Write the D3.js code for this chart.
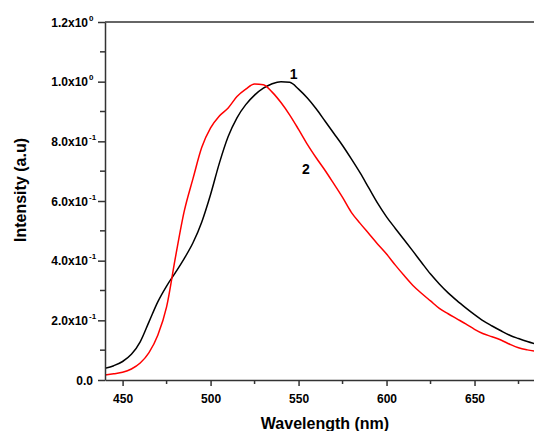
<!DOCTYPE html>
<html>
<head>
<meta charset="utf-8">
<script src="https://cdn.jsdelivr.net/npm/d3@7"></script>
<style>
  body { margin: 0; background: #fff; }
  svg { display: block; }
  .tick text { font-family: "Liberation Sans", Arial, sans-serif; font-weight: bold; font-size: 12px; fill: #000; }
  .axis-title { font-family: "Liberation Sans", Arial, sans-serif; font-weight: bold; font-size: 16px; fill: #000; }
  .curve-label { font-family: "Liberation Sans", Arial, sans-serif; font-weight: bold; font-size: 14px; fill: #000; }
</style>
</head>
<body>
<svg id="chart" width="534" height="431"></svg>
<script>
// ── Data ──
const wavelength = [440, 445, 450, 455, 460, 465, 470, 475, 480, 485, 490, 495, 500, 505, 510, 515,
  520, 525, 530, 535, 540, 545, 550, 555, 560, 565, 570, 575, 580, 585, 590, 595, 600, 605, 610,
  615, 620, 625, 630, 635, 640, 645, 650, 655, 660, 665, 670, 675, 680, 684];

const sample1 = [0.039, 0.048, 0.062, 0.086, 0.128, 0.195, 0.262, 0.315, 0.360, 0.407, 0.460, 0.530,
  0.622, 0.727, 0.816, 0.879, 0.923, 0.955, 0.978, 0.993, 1.000, 0.998, 0.975, 0.945, 0.909, 0.868,
  0.827, 0.786, 0.741, 0.694, 0.643, 0.592, 0.547, 0.508, 0.470, 0.432, 0.393, 0.355, 0.322, 0.292,
  0.266, 0.242, 0.219, 0.198, 0.181, 0.165, 0.150, 0.139, 0.129, 0.122];

const sample2 = [0.017, 0.021, 0.026, 0.037, 0.057, 0.092, 0.150, 0.245, 0.410, 0.565, 0.675, 0.780,
  0.845, 0.885, 0.912, 0.950, 0.975, 0.992, 0.990, 0.965, 0.930, 0.888, 0.840, 0.790, 0.745, 0.703,
  0.658, 0.612, 0.562, 0.525, 0.490, 0.455, 0.422, 0.385, 0.350, 0.317, 0.290, 0.265, 0.240, 0.222,
  0.205, 0.188, 0.170, 0.155, 0.145, 0.134, 0.120, 0.108, 0.101, 0.097];

const xTicks = [450, 500, 550, 600, 650];
const xMinor = [475, 525, 575, 625, 675];
const yTicks = [0, 0.2, 0.4, 0.6, 0.8, 1.0, 1.2];
const yMinor = [0.1, 0.3, 0.5, 0.7, 0.9, 1.1];
const yLabels = [["0.0", ""], ["2.0x10", "-1"], ["4.0x10", "-1"], ["6.0x10", "-1"],
  ["8.0x10", "-1"], ["1.0x10", "0"], ["1.2x10", "0"]];

// ── Layout ──
const LEFT = 105, RIGHT = 534, TOP = 22, BOTTOM = 380;
const AXIS = "#333";

const svg = d3.select("#chart");

const x = d3.scaleLinear().domain([440, 683.8]).range([LEFT, RIGHT]);
const y = d3.scaleLinear().domain([0, 1.2]).range([BOTTOM, TOP]);

// ── Curves ──
const line = d3.line()
  .curve(d3.curveMonotoneX)
  .x(d => x(d[0]))
  .y(d => y(d[1]));

svg.append("defs").append("clipPath").attr("id", "plot-clip")
  .append("rect").attr("x", LEFT).attr("y", TOP).attr("width", RIGHT - LEFT).attr("height", BOTTOM - TOP);

svg.append("path")
  .datum(wavelength.map((w, i) => [w, sample1[i]]))
  .attr("clip-path", "url(#plot-clip)")
  .attr("fill", "none")
  .attr("stroke", "#000")
  .attr("stroke-width", 1.5)
  .attr("d", line);

svg.append("path")
  .datum(wavelength.map((w, i) => [w, sample2[i]]))
  .attr("clip-path", "url(#plot-clip)")
  .attr("fill", "none")
  .attr("stroke", "#ff0000")
  .attr("stroke-width", 1.5)
  .attr("d", line);

// ── Top frame line ──
svg.append("line")
  .attr("x1", LEFT).attr("x2", RIGHT).attr("y1", TOP).attr("y2", TOP)
  .attr("stroke", AXIS).attr("stroke-width", 1.5);

// ── Bottom axis ──
const xAxis = svg.append("g")
  .attr("transform", `translate(0,${BOTTOM})`)
  .call(d3.axisBottom(x).tickValues(xTicks).tickSize(6).tickSizeOuter(0).tickPadding(8));
xAxis.select(".domain").attr("stroke", AXIS).attr("stroke-width", 1.5);
xAxis.selectAll(".tick line").attr("stroke", AXIS).attr("stroke-width", 1.5);

xMinor.forEach(v => {
  svg.append("line")
    .attr("x1", x(v)).attr("x2", x(v))
    .attr("y1", BOTTOM).attr("y2", BOTTOM + 4)
    .attr("stroke", AXIS).attr("stroke-width", 1.5);
});

// ── Left axis ──
const yAxis = svg.append("g")
  .attr("transform", `translate(${LEFT},0)`)
  .call(d3.axisLeft(y).tickValues(yTicks).tickSize(7).tickSizeOuter(0).tickFormat(""));
yAxis.select(".domain").attr("stroke", AXIS).attr("stroke-width", 1.5);
yAxis.selectAll(".tick line").attr("stroke", AXIS).attr("stroke-width", 1.5);

// tick labels: mantissa right-aligned, exponent as superscript after it
yAxis.selectAll(".tick").each(function(d, i) {
  const g = d3.select(this);
  g.select("text").remove();
  const [mant, exp] = yLabels[i];
  g.append("text")
    .attr("x", exp ? -17 : -12)
    .attr("dy", "0.35em")
    .attr("text-anchor", "end")
    .text(mant);
  if (exp) {
    g.append("text")
      .attr("x", -16)
      .attr("dy", "-0.25em")
      .attr("text-anchor", "start")
      .style("font-size", "8px")
      .text(exp);
  }
});

yMinor.forEach(v => {
  svg.append("line")
    .attr("x1", LEFT - 5).attr("x2", LEFT)
    .attr("y1", y(v)).attr("y2", y(v))
    .attr("stroke", AXIS).attr("stroke-width", 1.5);
});

// ── Axis titles ──
svg.append("text")
  .attr("class", "axis-title")
  .attr("x", 325)
  .attr("y", 429)
  .attr("text-anchor", "middle")
  .text("Wavelength (nm)");

svg.append("text")
  .attr("class", "axis-title")
  .attr("transform", "translate(26,190) rotate(-90)")
  .attr("text-anchor", "middle")
  .text("Intensity (a.u)");

// ── Curve labels ──
svg.append("text").attr("class", "curve-label")
  .attr("x", x(545)).attr("y", y(1.01)).text("1");
svg.append("text").attr("class", "curve-label")
  .attr("x", x(552)).attr("y", y(0.69)).text("2");
</script>
</body>
</html>
